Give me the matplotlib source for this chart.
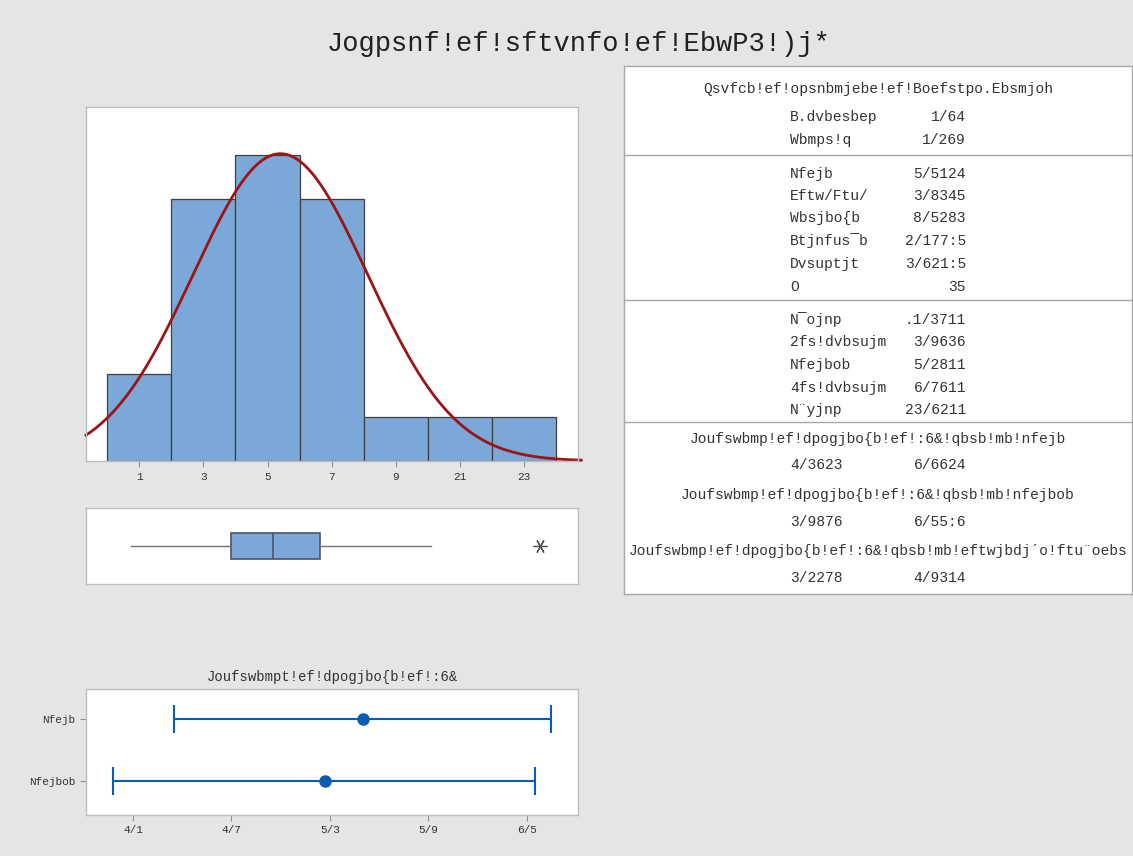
import numpy as np
import matplotlib
matplotlib.use("Agg")
import matplotlib.pyplot as plt
from matplotlib.lines import Line2D


def shift(s):
    """Encode a string by moving every character one code point up."""
    return "".join(chr(ord(c) + 1) for c in s)


# ---- data -------------------------------------------------------------
bin_edges = [-1, 1, 3, 5, 7, 9, 11, 13]
bin_counts = [2, 6, 7, 6, 1, 1, 1]
hist_ticks = [0, 2, 4, 6, 8, 10, 12]

n_obs = 24
mean = 4.4013
std_dev = 2.7234
variance = 7.4172
skewness = 1.06694
kurtosis = 2.51094
a_squared = 0.53
p_value = 0.158

minimum = -0.2600
q1 = 2.8525
median = 4.1700
q3 = 5.6500
upper_whisker = 9.10
maximum = 12.5100

ci_mean = [3.2512, 5.5513]
ci_median = [2.8765, 5.4495]
ci_std = [2.1167, 3.8203]
ci_ticks = [3.0, 3.6, 4.2, 4.8, 5.4]

title = "Jogpsnf!ef!sftvnfo!ef!EbwP3!)j*"
ad_header = "Qsvfcb!ef!opsnbmjebe!ef!Boefstpo.Ebsmjoh"
ad_labels = ["B.dvbesbep", "Wbmps!q"]
desc_labels = ["Nfejb", "Eftw/Ftu/", "Wbsjbo{b", "Btjnfus\u00afb", "Dvsuptjt", "O"]
quant_labels = ["N\u00afojnp", "2fs!dvbsujm", "Nfejbob", "4fs!dvbsujm", "N\u00a8yjnp"]
ci_headers = [
    "Joufswbmp!ef!dpogjbo{b!ef!:6&!qbsb!mb!nfejb",
    "Joufswbmp!ef!dpogjbo{b!ef!:6&!qbsb!mb!nfejbob",
    "Joufswbmp!ef!dpogjbo{b!ef!:6&!qbsb!mb!eftwjbdj\u00b4o!ftu\u00a8oebs",
]
ci_title = "Joufswbmpt!ef!dpogjbo{b!ef!:6&"
ci_rows = ["Nfejb", "Nfejbob"]

# ---- style ------------------------------------------------------------
FONT = "Liberation Mono"
BG = "#e5e5e5"
FRAME = "#bdbdbd"
BAR = "#7ba7d9"
EDGE = "#404040"
CURVE = "#9c1414"
CI_BLUE = "#0a5cb0"
TXT = "#333333"
plt.rcParams["font.family"] = [FONT, "DejaVu Sans"]

W, H = 1133, 856
fig = plt.figure(figsize=(W / 100, H / 100), dpi=100, facecolor=BG)


def frac(x0, y0, x1, y1):
    return [x0 / W, 1 - y1 / H, (x1 - x0) / W, (y1 - y0) / H]


def frame(ax):
    ax.set_facecolor("white")
    for sp in ax.spines.values():
        sp.set_color(FRAME)
        sp.set_linewidth(1.0)


fig.text(579 / W, 1 - 44 / H, title, ha="center", va="center",
         fontsize=19.5, color="#202020")

# ---- histogram with fitted normal curve -------------------------------
xlim = (-1.66, 13.68)
axh = fig.add_axes(frac(86, 107, 578, 461))
frame(axh)
axh.hist(np.repeat(np.array(bin_edges[:-1]) + 1, bin_counts), bins=bin_edges,
         color=BAR, edgecolor=EDGE, linewidth=0.9)
xs = np.linspace(xlim[0], xlim[1] + 0.1, 400)
pdf = np.exp(-0.5 * ((xs - mean) / std_dev) ** 2) / (std_dev * np.sqrt(2 * np.pi))
axh.plot(xs, pdf * n_obs * 2, color=CURVE, lw=2.0, clip_on=False)
axh.set_xlim(*xlim)
axh.set_ylim(0, 8.1)
axh.set_yticks([])
axh.set_xticks(hist_ticks)
axh.set_xticklabels([shift(str(t)) for t in hist_ticks])
axh.tick_params(axis="x", length=4, color="#909090", labelsize=8,
                labelcolor=TXT, pad=4)

# ---- box plot -----------------------------------------------------------
axb = fig.add_axes(frac(86, 508, 578, 584))
frame(axb)
stats = [dict(med=median, q1=q1, q3=q3, whislo=minimum, whishi=upper_whisker,
              fliers=[maximum])]
axb.bxp(stats, vert=False, widths=0.34, patch_artist=True, showcaps=False,
        boxprops=dict(facecolor=BAR, edgecolor="#4a5566", linewidth=1.2),
        medianprops=dict(color="#4a5566", linewidth=1.2),
        whiskerprops=dict(color="#707070", linewidth=1.0),
        flierprops=dict(marker=(6, 2, 90), markersize=10,
                        markeredgecolor="#505050", markeredgewidth=0.9))
axb.set_xlim(*xlim)
axb.set_ylim(0.5, 1.5)
axb.set_xticks([])
axb.set_yticks([])

# ---- confidence intervals ---------------------------------------------
axc = fig.add_axes(frac(86, 689, 578, 815))
frame(axc)
ci_pos = [1, 0]
for pos, (lo, hi), center in zip(ci_pos, [ci_mean, ci_median], [mean, median]):
    axc.errorbar([center], [pos], xerr=[[center - lo], [hi - center]],
                 fmt="o", color=CI_BLUE, ecolor=CI_BLUE, elinewidth=1.5,
                 capsize=10, capthick=1.5, markersize=8)
axc.set_xlim(2.713, 5.713)
axc.set_ylim(-0.55, 1.48)
axc.set_xticks(ci_ticks)
axc.set_xticklabels([shift(f"{t:.1f}") for t in ci_ticks])
axc.set_yticks(ci_pos)
axc.set_yticklabels(ci_rows)
axc.tick_params(length=4, color="#909090", labelsize=8, labelcolor=TXT)
axc.set_title(ci_title, fontsize=10, color=TXT, pad=6)

# ---- summary table ------------------------------------------------------
axt = fig.add_axes(frac(624, 66, 1132, 594))
axt.set_xlim(0, 508)
axt.set_ylim(528, 0)
axt.set_facecolor("white")
axt.set_xticks([])
axt.set_yticks([])
for sp in axt.spines.values():
    sp.set_color("#a8a8a8")
    sp.set_linewidth(1.0)
for y in (89, 234, 356):
    axt.add_line(Line2D([0, 508], [y, y], color="#a8a8a8", lw=1.0))

TS = 10.5
LX, VX, CX = 166, 342, 254


def row(y, label, value):
    axt.text(LX, y, label, ha="left", va="center", fontsize=TS, color=TXT)
    axt.text(VX, y, value, ha="right", va="center", fontsize=TS, color=TXT)


axt.text(CX, 23, ad_header, ha="center", va="center", fontsize=TS, color=TXT)
row(51, ad_labels[0], shift(f"{a_squared:.2f}"))
row(74, ad_labels[1], shift(f"{p_value:.3f}"))

desc_values = [shift(f"{mean:.4f}"), shift(f"{std_dev:.4f}"),
               shift(f"{variance:.4f}"), shift(f"{skewness:.5f}"),
               shift(f"{kurtosis:.5f}"), shift(str(n_obs))]
for y, lab, val in zip([108, 130, 152, 175, 198, 221], desc_labels, desc_values):
    row(y, lab, val)

quant_values = [shift(f"{v:.4f}") for v in (minimum, q1, median, q3, maximum)]
for y, lab, val in zip([254, 276, 299, 322, 344], quant_labels, quant_values):
    row(y, lab, val)

for (yh, yv), head, (lo, hi) in zip([(373, 399), (429, 456), (485, 512)],
                                    ci_headers, [ci_mean, ci_median, ci_std]):
    axt.text(CX, yh, head, ha="center", va="center", fontsize=TS, color=TXT)
    axt.text(LX, yv, shift(f"{lo:.4f}"), ha="left", va="center",
             fontsize=TS, color=TXT)
    axt.text(VX, yv, shift(f"{hi:.4f}"), ha="right", va="center",
             fontsize=TS, color=TXT)

fig.savefig("out.png", dpi=100, facecolor=BG)
